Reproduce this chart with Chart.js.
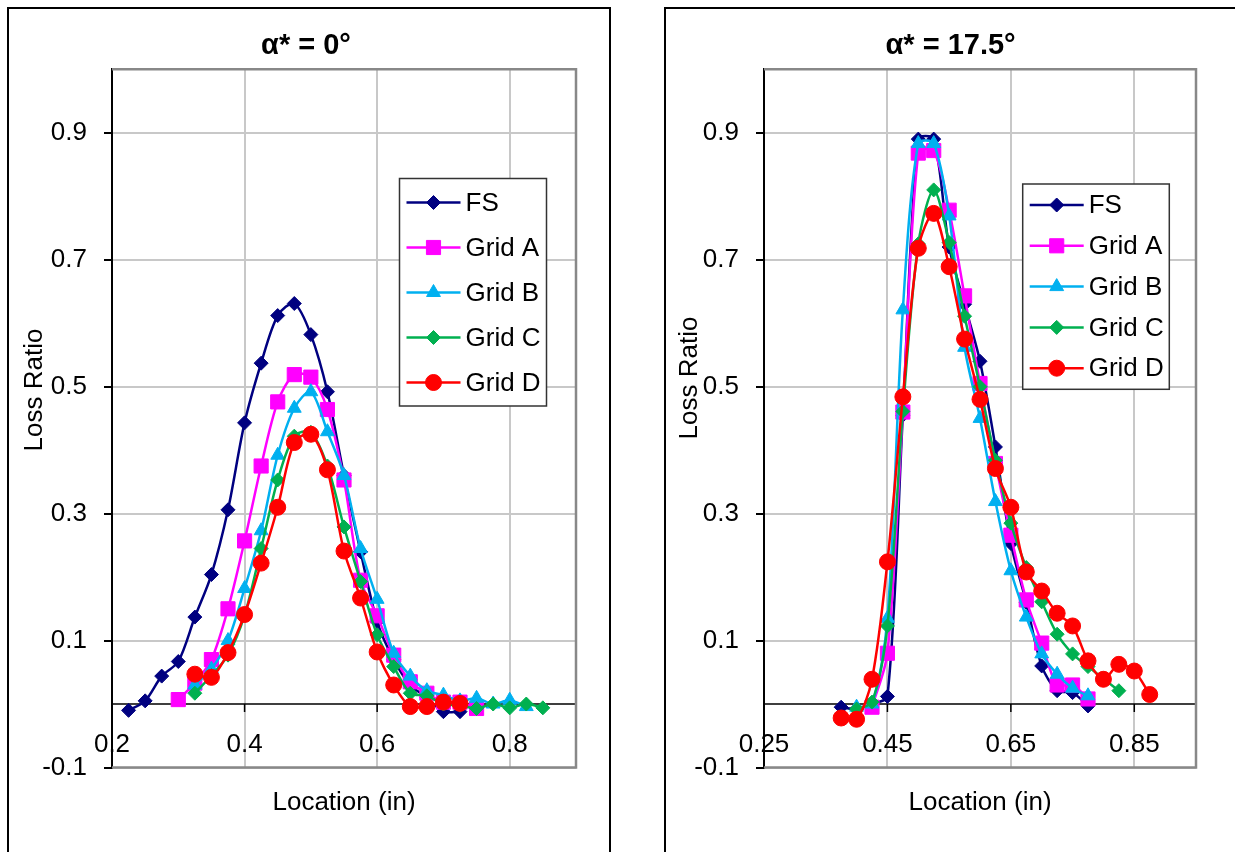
<!DOCTYPE html>
<html>
<head>
<meta charset="utf-8">
<script src="https://cdn.jsdelivr.net/npm/chart.js@4.4.0/dist/chart.umd.min.js"></script>
<style>
body{margin:0;background:#fff;width:1235px;height:852px;overflow:hidden;position:relative}
.frame{position:absolute;top:7px;height:900px;border:2px solid #000;box-sizing:border-box}
canvas{position:absolute;top:0}
</style>
</head>
<body>
<div class="frame" style="left:7px;width:604px"></div>
<div class="frame" style="left:664px;width:700px"></div>
<canvas id="left" width="620" height="852" style="left:0;width:620px;height:852px"></canvas>
<canvas id="right" width="595" height="852" style="left:640px;width:595px;height:852px"></canvas>
<script>
// ---- data ----
let seriesNames = ["FS", "Grid A", "Grid B", "Grid C", "Grid D"];

let leftLoc = [0.225,0.25,0.275,0.3,0.325,0.35,0.375,0.4,0.425,0.45,0.475,0.5,0.525,0.55,0.575,0.6,0.625,0.65,0.675,0.7,0.725,0.75,0.775,0.8,0.825,0.85];
let leftFS = [-0.01,0.005,0.044,0.067,0.137,0.204,0.306,0.443,0.537,0.612,0.631,0.582,0.492,0.36,0.24,0.13,0.07,0.03,0.01,-0.012,-0.012,null,null,null,null,null];
let leftA  = [null,null,null,0.007,0.033,0.07,0.15,0.257,0.375,0.476,0.519,0.515,0.464,0.353,0.195,0.139,0.077,0.035,0.017,0.003,0.003,-0.007,null,null,null,null];
let leftB  = [null,null,null,null,0.03,0.055,0.1,0.182,0.273,0.392,0.466,0.492,0.429,0.36,0.245,0.165,0.08,0.044,0.021,0.014,0.005,0.009,0.0,0.006,-0.004,null];
let leftC  = [null,null,null,null,0.017,0.045,0.077,0.14,0.245,0.353,0.422,0.428,0.375,0.279,0.193,0.109,0.059,0.017,0.013,0.0,-0.002,-0.007,0.0,-0.006,0.0,-0.006];
let leftD  = [null,null,null,null,0.047,0.042,0.081,0.141,0.222,0.31,0.412,0.425,0.369,0.241,0.167,0.082,0.03,-0.004,-0.004,0.003,0.001,null,null,null,null,null];

let rightLoc = [0.375,0.4,0.425,0.45,0.475,0.5,0.525,0.55,0.575,0.6,0.625,0.65,0.675,0.7,0.725,0.75,0.775,0.8,0.825,0.85,0.875];
let rightFS = [-0.005,-0.008,0.0,0.012,0.455,0.89,0.89,0.72,0.63,0.54,0.405,0.253,0.16,0.06,0.021,0.018,-0.003,null,null,null,null];
let rightA  = [null,null,-0.005,0.08,0.46,0.868,0.872,0.778,0.643,0.505,0.379,0.266,0.164,0.096,0.03,0.03,0.008,null,null,null,null];
let rightB  = [null,-0.005,0.0,0.135,0.621,0.883,0.883,0.769,0.562,0.45,0.319,0.21,0.137,0.079,0.047,0.025,0.013,null,null,null,null];
let rightC  = [null,-0.008,0.003,0.123,0.461,0.725,0.81,0.727,0.611,0.5,0.384,0.285,0.215,0.161,0.11,0.079,0.059,0.04,0.021,null,null];
let rightD  = [-0.022,-0.024,0.039,0.224,0.484,0.718,0.773,0.689,0.575,0.48,0.371,0.31,0.208,0.178,0.143,0.123,0.068,0.039,0.0625,0.052,0.015];

let yTicks = [-0.1,0.1,0.3,0.5,0.7,0.9];
let leftXTicks = [0.2,0.4,0.6,0.8];
let rightXTicks = [0.25,0.45,0.65,0.85];

// ---- styles ----
let colors = ["#000080", "#FF00FF", "#00B0F0", "#00B050", "#FF0000"];
let shapes = ["rectRot", "rect", "triangle", "rectRot", "circle"];
let sizes  = [7, 10, 8, 7, 8];
let fontFam = "'Liberation Sans', Arial, sans-serif";

Chart.defaults.font.family = fontFam;
Chart.defaults.font.size = 26;
Chart.defaults.color = "#000";

function points(loc, vals){
  let out = [];
  for (let i = 0; i < loc.length; i++){
    if (vals[i] !== null) out.push({x: loc[i], y: vals[i]});
  }
  return out;
}

function makeSets(loc, list){
  return list.map(function(vals, i){
    return {
      label: seriesNames[i],
      data: points(loc, vals),
      borderColor: colors[i],
      backgroundColor: colors[i],
      borderWidth: 2.5,
      pointStyle: shapes[i],
      pointRadius: sizes[i],
      pointBorderWidth: 1,
      tension: 0.3,
      order: list.length - i
    };
  });
}

// draws frame bits, x tick labels, titles and the boxed legend
let decor = {
  id: "decor",
  beforeDatasetsDraw(chart, args, o){
    let ctx = chart.ctx, a = chart.chartArea, x = chart.scales.x, y = chart.scales.y;
    ctx.save();
    let y0 = y.getPixelForValue(0);
    ctx.strokeStyle = "#000";
    ctx.lineWidth = 1.5;
    ctx.beginPath();
    ctx.moveTo(a.left, y0); ctx.lineTo(a.right, y0);
    x.ticks.forEach(function(t){
      let px = x.getPixelForValue(t.value);
      ctx.moveTo(px, y0); ctx.lineTo(px, y0 + 8);
    });
    ctx.stroke();
    ctx.strokeStyle = "#888";
    ctx.lineWidth = 2.5;
    ctx.beginPath();
    ctx.moveTo(a.left, a.top); ctx.lineTo(a.right, a.top);
    ctx.lineTo(a.right, a.bottom); ctx.lineTo(a.left, a.bottom);
    ctx.stroke();
    // x tick labels sit just above the bottom edge, as in the original
    ctx.fillStyle = "#000";
    ctx.font = "26px " + fontFam;
    ctx.textAlign = "center";
    ctx.textBaseline = "middle";
    x.ticks.forEach(function(t){
      ctx.fillText(t.value.toString(), x.getPixelForValue(t.value), o.xTickY);
    });
    ctx.restore();
  },
  afterDraw(chart, args, o){
    let ctx = chart.ctx, a = chart.chartArea;
    ctx.save();
    ctx.fillStyle = "#000";
    ctx.textAlign = "center";
    ctx.textBaseline = "middle";
    ctx.font = "bold 29px " + fontFam;
    ctx.fillText(o.title, o.titleX, o.titleY);
    ctx.font = "26px " + fontFam;
    ctx.fillText("Location (in)", (a.left + a.right) / 2, o.xTitleY);
    ctx.save();
    ctx.translate(o.yTitleX, o.yTitleY);
    ctx.rotate(-Math.PI / 2);
    ctx.fillText("Loss Ratio", 0, 0);
    ctx.restore();

    // legend
    let L = o.legend;
    ctx.fillStyle = "#fff";
    ctx.fillRect(L.x, L.y, L.w, L.h);
    ctx.strokeStyle = "#333";
    ctx.lineWidth = 1.5;
    ctx.strokeRect(L.x, L.y, L.w, L.h);
    chart.data.datasets.forEach(function(ds, i){
      let cy = L.row0 + i * L.step;
      ctx.strokeStyle = ds.borderColor;
      ctx.lineWidth = ds.borderWidth;
      ctx.beginPath();
      ctx.moveTo(L.x + 7, cy); ctx.lineTo(L.x + 61, cy);
      ctx.stroke();
      ctx.fillStyle = ds.backgroundColor;
      ctx.lineWidth = 1;
      Chart.helpers.drawPoint(ctx, {pointStyle: ds.pointStyle, radius: ds.pointRadius, borderWidth: 1, rotation: 0}, L.x + 34, cy);
      ctx.fillStyle = "#000";
      ctx.textAlign = "left";
      ctx.fillText(ds.label, L.x + 66, cy + 1);
    });
    ctx.restore();
  }
};

function makeChart(id, loc, list, xMin, xMax, xTicks, yAxisWidth, padRight, deco){
  return new Chart(id, {
    type: "line",
    data: { datasets: makeSets(loc, list) },
    plugins: [decor],
    options: {
      responsive: false,
      animation: false,
      events: [],
      layout: { padding: { top: 69.3, right: padRight, bottom: 0, left: 0 } },
      plugins: { legend: {display: false}, tooltip: {enabled: false}, decor: deco },
      scales: {
        x: {
          type: "linear", min: xMin, max: xMax,
          afterBuildTicks: function(s){ s.ticks = xTicks.map(function(v){ return {value: v}; }); },
          afterFit: function(s){ s.height = 84.5; },
          grid: { color: "#c8c8c8", lineWidth: 2, drawTicks: false },
          border: { display: false },
          ticks: { display: false }
        },
        y: {
          min: -0.1, max: 1.0,
          afterBuildTicks: function(s){ s.ticks = yTicks.map(function(v){ return {value: v}; }); },
          afterFit: function(s){ s.width = yAxisWidth; },
          grid: { color: "#c8c8c8", lineWidth: 2, tickColor: "#000", tickLength: 8, tickWidth: 2 },
          border: { display: true, color: "#000", width: 2 },
          ticks: { padding: 17, callback: function(v){ return v.toString(); } }
        }
      }
    }
  });
}

makeChart("left", leftLoc, [leftFS, leftA, leftB, leftC, leftD], 0.2, 0.9, leftXTicks, 112, 44, {
  title: "α* = 0°", titleX: 306, titleY: 46, xTickY: 745, xTitleY: 803, yTitleX: 35, yTitleY: 390,
  legend: { x: 399.5, y: 178.5, w: 147, h: 227.5, row0: 202.5, step: 45 }
});

makeChart("right", rightLoc, [rightFS, rightA, rightB, rightC, rightD], 0.25, 0.95, rightXTicks, 124, 39, {
  title: "α* = 17.5°", titleX: 310.6, titleY: 46, xTickY: 745, xTitleY: 803, yTitleX: 50, yTitleY: 378,
  legend: { x: 382.7, y: 184, w: 146.6, h: 205.3, row0: 205, step: 40.8 }
});
</script>
</body>
</html>
